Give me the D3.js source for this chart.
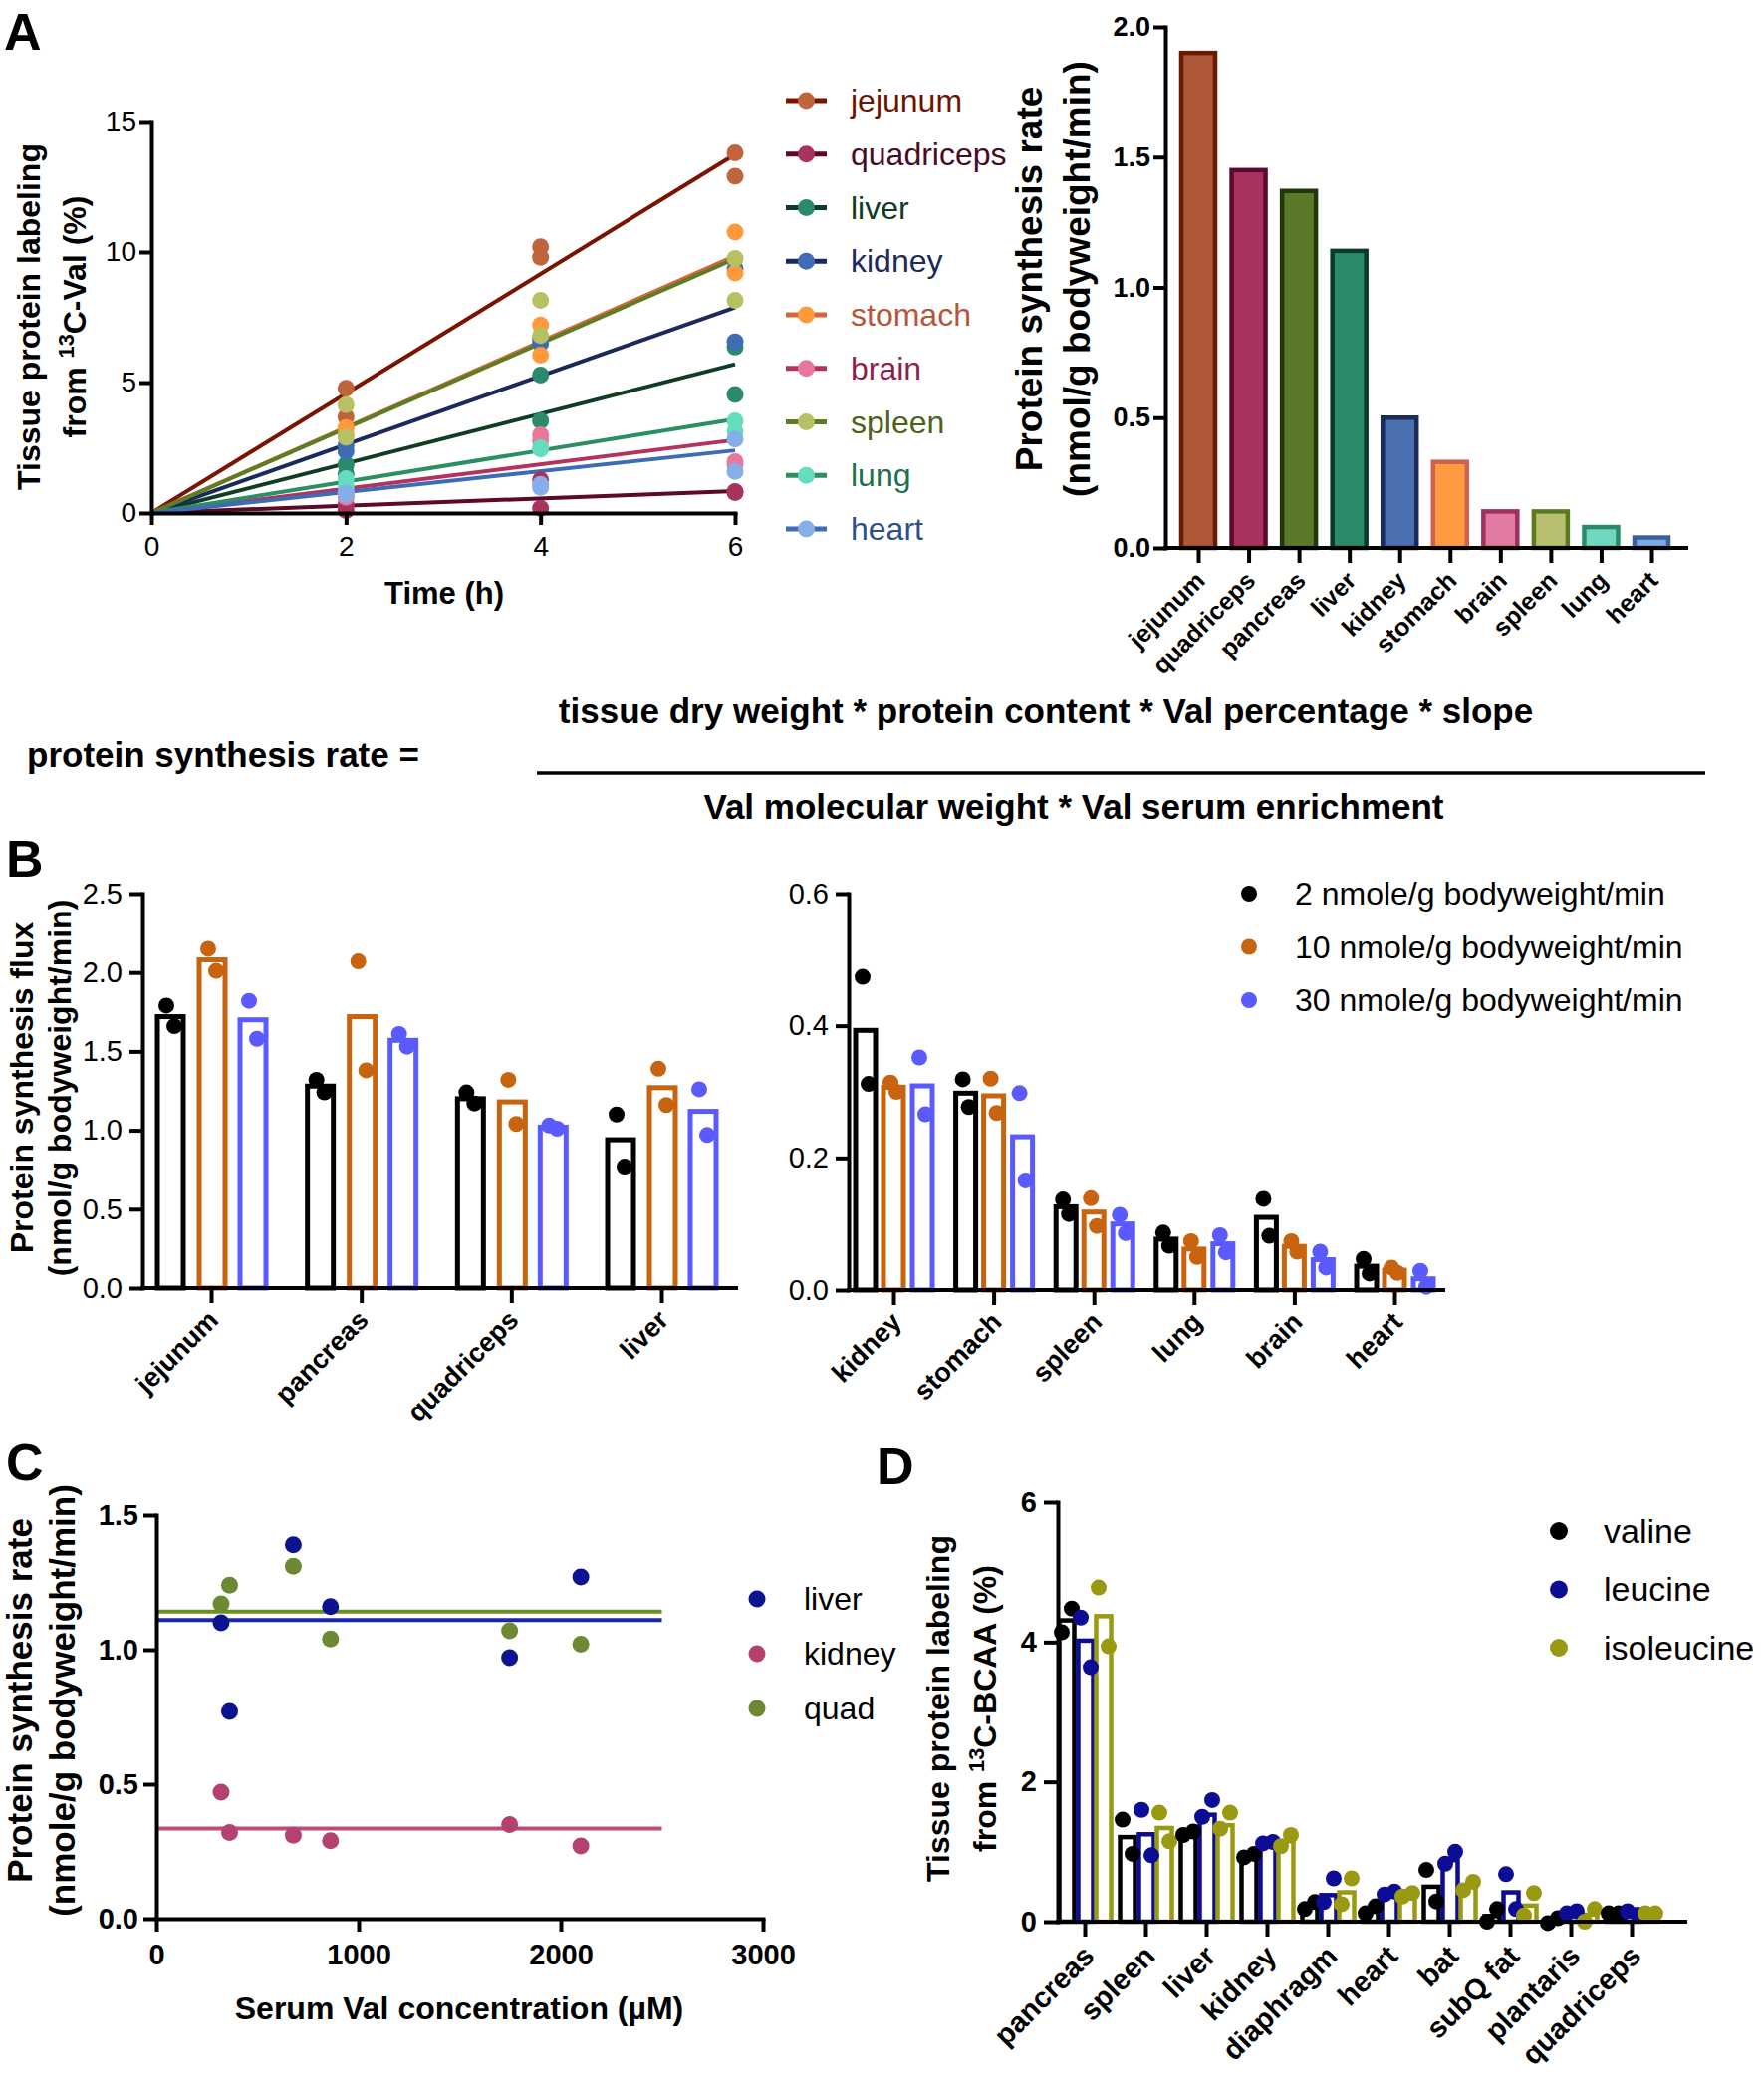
<!DOCTYPE html>
<html>
<head>
<meta charset="utf-8">
<script src="https://cdn.jsdelivr.net/npm/d3@7"></script>
<style>
  body { margin: 0; background: #fff; }
</style>
</head>
<body>
<svg id="fig" width="1771" height="2100"></svg>
<script>
// ---- data: panel A left (labeling %, two mice per time point) ----
const labelTissues = ["jejunum", "quadriceps", "liver", "kidney", "stomach", "brain", "spleen", "lung", "heart"];
const timeTicks = [0, 2, 4, 6];
const labeling2h = [[4.78, 3.68], [0.32, 0.10], [1.86, 1.50], [2.59, 2.37], [3.27, 3.02], [0.83, 0.60], [4.15, 2.90], [1.32, 1.05], [0.76, 0.70]];
const labeling4h = [[10.2, 9.8], [1.27, 0.18], [5.29, 3.54], [6.64, 6.50], [7.20, 6.05], [3.00, 2.75], [8.15, 6.80], [2.50, 2.45], [0.98, 1.10]];
const labeling6h = [[13.8, 12.9], [0.78, 0.82], [6.36, 4.54], [9.36, 6.56], [10.76, 9.20], [1.97, 1.85], [9.75, 8.15], [3.53, 3.14], [2.83, 1.59]];
const fitAt6h = [13.74, 0.84, 5.70, 7.88, 9.85, 2.80, 9.75, 3.60, 2.40];
const labelDot = ["#c0643c", "#a8335f", "#2b8a6b", "#3f6db5", "#ff9a3c", "#e8789a", "#b7c163", "#66dcbe", "#86aee8"];
const labelLine = ["#7a1400", "#5c0a26", "#0f3d24", "#1a2a5c", "#d5673f", "#b3335e", "#5d7d23", "#2c8f63", "#3d6bb5"];
const labelText = ["#6b1500", "#4a0a25", "#0f3d24", "#1a2a5c", "#b5553a", "#8c1f4e", "#4a6315", "#1f7050", "#2d4f8f"];

// ---- panel A right ----
const rateTissues = ["jejunum", "quadriceps", "pancreas", "liver", "kidney", "stomach", "brain", "spleen", "lung", "heart"];
const synthesisRate = [1.90, 1.45, 1.37, 1.14, 0.50, 0.33, 0.14, 0.14, 0.08, 0.04];
const rateFill = ["#b0573a", "#a8335f", "#5a7a2a", "#2b8a6b", "#4a70b0", "#ff9a40", "#e07aa0", "#b8c070", "#70d8c0", "#80a8e0"];
const rateStroke = ["#6a1a00", "#5a0a30", "#23380a", "#0a3a2a", "#1a2a5a", "#d06050", "#a03060", "#5a7a20", "#2a8a6a", "#3a60a0"];

// ---- panel B ----
const doseNames = ["2 nmole/g bodyweight/min", "10 nmole/g bodyweight/min", "30 nmole/g bodyweight/min"];
const doseColors = ["#000000", "#c8630f", "#5a5aff"];
const fluxHighTissues = ["jejunum", "pancreas", "quadriceps", "liver"];
const fluxHighBars = [[1.72, 2.08, 1.70], [1.28, 1.72, 1.57], [1.20, 1.18, 1.02], [0.94, 1.27, 1.12]];
const fluxHighPoints = [
  [[1.79, 1.66], [2.15, 2.01], [1.82, 1.58]],
  [[1.32, 1.24], [2.07, 1.38], [1.61, 1.53]],
  [[1.24, 1.17], [1.32, 1.04], [1.03, 1.01]],
  [[1.10, 0.77], [1.39, 1.16], [1.26, 0.97]]
];
const fluxLowTissues = ["kidney", "stomach", "spleen", "lung", "brain", "heart"];
const fluxLowBars = [[0.393, 0.307, 0.309], [0.298, 0.294, 0.232], [0.126, 0.118, 0.100], [0.077, 0.062, 0.070], [0.110, 0.066, 0.046], [0.036, 0.030, 0.017]];
const fluxLowPoints = [
  [[0.474, 0.312], [0.314, 0.300], [0.352, 0.266]],
  [[0.319, 0.277], [0.320, 0.268], [0.298, 0.166]],
  [[0.137, 0.115], [0.139, 0.097], [0.114, 0.086]],
  [[0.087, 0.067], [0.074, 0.050], [0.083, 0.057]],
  [[0.138, 0.082], [0.074, 0.058], [0.058, 0.034]],
  [[0.047, 0.025], [0.034, 0.026], [0.029, 0.005]]
];

// ---- panel C ----
const serumVal = [320, 362, 677, 861, 1747, 2099];
const liverRate = [1.10, 0.77, 1.39, 1.16, 0.97, 1.27];
const kidneyRate = [0.47, 0.32, 0.31, 0.29, 0.35, 0.27];
const quadRate = [1.17, 1.24, 1.31, 1.04, 1.07, 1.02];
const fitSpan = [0, 2500];
const cNames = ["liver", "kidney", "quad"];
const cDot = ["#0b1390", "#b5426e", "#6b8a32"];
const cLine = ["#1a28a8", "#c24a78", "#6b8f20"];

// ---- panel D ----
const bcaaTissues = ["pancreas", "spleen", "liver", "kidney", "diaphragm", "heart", "bat", "subQ fat", "plantaris", "quadriceps"];
const bcaaNames = ["valine", "leucine", "isoleucine"];
const bcaaColors = ["#000000", "#0c0c94", "#9a9a12"];
const bcaaBars = [[4.31, 4.02, 4.37], [1.21, 1.25, 1.34], [1.25, 1.53, 1.38], [0.92, 1.11, 1.15], [0.23, 0.38, 0.42],
  [0.17, 0.40, 0.36], [0.50, 0.88, 0.52], [0.08, 0.42, 0.23], [0.02, 0.13, 0.10], [0.11, 0.12, 0.11]];
const bcaaPoints = [
  [[4.14, 4.48], [4.35, 3.64], [4.78, 3.94]],
  [[1.46, 0.97], [1.60, 0.95], [1.56, 1.15]],
  [[1.24, 1.29], [1.50, 1.74], [1.33, 1.56]],
  [[0.92, 0.97], [1.12, 1.14], [1.08, 1.24]],
  [[0.18, 0.28], [0.28, 0.62], [0.25, 0.62]],
  [[0.12, 0.22], [0.39, 0.43], [0.36, 0.41]],
  [[0.74, 0.29], [0.83, 1.00], [0.45, 0.57]],
  [[0.00, 0.18], [0.68, 0.18], [0.09, 0.41]],
  [[-0.02, 0.05], [0.12, 0.15], [0.00, 0.18]],
  [[0.12, 0.12], [0.15, 0.10], [0.12, 0.12]]
];

const FONT = '"Liberation Sans", Arial, Helvetica, sans-serif';
const svg = d3.select("#fig").attr("font-family", FONT);

function yAxis(x, scale, ticks, fmt, size, weight, tick, pad) {
  const g = svg.append("g").attr("transform", "translate(" + x + ",0)")
    .call(d3.axisLeft(scale).tickValues(ticks).tickFormat(fmt).tickSize(tick).tickSizeOuter(0).tickPadding(pad));
  g.attr("font-family", FONT).attr("font-size", size).attr("font-weight", weight);
  g.select(".domain").attr("stroke-width", 4).attr("stroke-linecap", "square");
  g.selectAll(".tick line").attr("stroke-width", 4);
  g.selectAll(".tick text").attr("fill", "#000");
  return g;
}

// category axis: line from x0 to x1, ticks at point scale, rotated labels
function catAxis(xs, y0, x0, x1, size, lab) {
  svg.append("line").attr("x1", x0).attr("x2", x1).attr("y1", y0).attr("y2", y0)
    .attr("stroke", "#000").attr("stroke-width", 4).attr("stroke-linecap", "square");
  const g = svg.append("g").attr("transform", "translate(0," + y0 + ")")
    .call(d3.axisBottom(xs).tickSize(15).tickSizeOuter(0).tickFormat(""));
  g.select(".domain").remove();
  g.selectAll(".tick line").attr("stroke-width", 4);
  svg.append("g").selectAll("text").data(xs.domain()).enter().append("text")
    .attr("transform", d => "translate(" + (xs(d) + lab[0]) + "," + (y0 + lab[1]) + ") rotate(-45)")
    .attr("text-anchor", "end").attr("dy", "0.35em")
    .attr("font-size", size).attr("font-weight", "bold").text(d => d);
}

function yTitle(lines, xs, cy, size) {
  lines.forEach((ln, i) => {
    const t = svg.append("text").attr("transform", "translate(" + xs[i] + "," + cy + ") rotate(-90)")
      .attr("text-anchor", "middle").attr("font-size", size).attr("font-weight", "bold");
    if (typeof ln === "string") t.text(ln);
    else {
      t.append("tspan").text(ln[0]);
      t.append("tspan").attr("dy", -size * 0.38).attr("font-size", size * 0.68).text(ln[1]);
      t.append("tspan").attr("dy", size * 0.38).text(ln[2]);
    }
  });
}

function panelLabel(txt, x, y) {
  svg.append("text").attr("x", x).attr("y", y).attr("font-size", 52).attr("font-weight", "bold").text(txt);
}

// ================= Panel A left =================
panelLabel("A", 4, 50);
const xA = d3.scaleLinear().domain([0, 6]).range([152, 738]);
const yA = d3.scaleLinear().domain([0, 15]).range([515, 122]);

const fitLines = svg.append("g");
labelTissues.forEach((t, i) => {
  fitLines.append("line")
    .attr("x1", xA(0)).attr("y1", yA(0)).attr("x2", xA(6)).attr("y2", yA(fitAt6h[i]))
    .attr("stroke", labelLine[i]).attr("stroke-width", 4);
});
const aPts = [];
[[2, labeling2h], [4, labeling4h], [6, labeling6h]].forEach(([h, arr]) => {
  arr.forEach((vals, i) => vals.forEach(v => aPts.push({ h: h, v: v, i: i })));
});
svg.append("g").selectAll("circle").data(aPts).enter().append("circle")
  .attr("cx", d => xA(d.h)).attr("cy", d => yA(d.v)).attr("r", 8.5)
  .attr("fill", d => labelDot[d.i]);

yAxis(xA(0), yA, [0, 5, 10, 15], d3.format("d"), 28, "normal", 12, 3);
const gxA = svg.append("g").attr("transform", "translate(0," + yA(0) + ")")
  .call(d3.axisBottom(xA).tickValues(timeTicks).tickFormat(d3.format("d")).tickSize(12).tickSizeOuter(0).tickPadding(11));
gxA.attr("font-family", FONT).attr("font-size", 28);
gxA.select(".domain").attr("stroke-width", 4).attr("stroke-linecap", "square");
gxA.selectAll(".tick line").attr("stroke-width", 4);
svg.append("text").attr("x", 446).attr("y", 606).attr("text-anchor", "middle")
  .attr("font-size", 31).attr("font-weight", "bold").text("Time (h)");
yTitle(["Tissue protein labeling", ["from ", "13", "C-Val (%)"]], [40, 86], 318, 32);

// legend A
const legA = d3.scalePoint().domain(labelTissues).range([101, 531]);
const legAg = svg.append("g").selectAll("g").data(labelTissues).enter().append("g")
  .attr("transform", d => "translate(0," + legA(d) + ")");
legAg.append("line").attr("x1", 789).attr("x2", 830).attr("stroke", (d, i) => labelLine[i]).attr("stroke-width", 5);
legAg.append("circle").attr("cx", 809.5).attr("r", 8.5).attr("fill", (d, i) => labelDot[i]);
legAg.append("text").attr("x", 854).attr("dy", "0.35em").attr("font-size", 32)
  .attr("fill", (d, i) => labelText[i]).text(d => d);

// ================= Panel A right =================
const xR = d3.scalePoint().domain(rateTissues).range([1203, 1658]);
const yR = d3.scaleLinear().domain([0, 2]).range([550, 27]);
svg.append("g").selectAll("rect").data(rateTissues).enter().append("rect")
  .attr("x", d => xR(d) - 17).attr("width", 34)
  .attr("y", (d, i) => yR(synthesisRate[i])).attr("height", (d, i) => yR(0) - yR(synthesisRate[i]))
  .attr("fill", (d, i) => rateFill[i]).attr("stroke", (d, i) => rateStroke[i]).attr("stroke-width", 4.5);
yAxis(1170, yR, [0, 0.5, 1, 1.5, 2], d3.format(".1f"), 27, "bold", 12, 3);
catAxis(xR, yR(0), 1170, 1693, 25, [2, 28]);
yTitle(["Protein synthesis rate", "(nmol/g bodyweight/min)"], [1046, 1094], 280, 37);

// ================= Formula =================
svg.append("text").attr("x", 27).attr("y", 770).attr("font-size", 35).attr("font-weight", "bold")
  .text("protein synthesis rate =");
svg.append("text").attr("x", 1050).attr("y", 726).attr("text-anchor", "middle").attr("font-size", 35).attr("font-weight", "bold")
  .text("tissue dry weight * protein content * Val percentage * slope");
svg.append("line").attr("x1", 539).attr("x2", 1712).attr("y1", 776).attr("y2", 776)
  .attr("stroke", "#000").attr("stroke-width", 3.5);
svg.append("text").attr("x", 1078).attr("y", 822).attr("text-anchor", "middle").attr("font-size", 35).attr("font-weight", "bold")
  .text("Val molecular weight * Val serum enrichment");

// ================= grouped bars helper =================
function groupedBars(cats, bars, pts, colors, xs, ys, offs, barW, sw, r, jit) {
  const g = svg.append("g");
  cats.forEach((c, i) => {
    bars[i].forEach((v, k) => {
      g.append("rect").attr("x", xs(c) + offs[k] - barW / 2).attr("width", barW)
        .attr("y", ys(v)).attr("height", ys(0) - ys(v))
        .attr("fill", "#fff").attr("stroke", colors[k]).attr("stroke-width", sw);
    });
  });
  cats.forEach((c, i) => {
    pts[i].forEach((vals, k) => {
      vals.forEach((v, j) => {
        g.append("circle").attr("cx", xs(c) + offs[k] + (j === 0 ? -jit : jit)).attr("cy", ys(v))
          .attr("r", r).attr("fill", colors[k]);
      });
    });
  });
}

// ================= Panel B left =================
panelLabel("B", 6, 880);
const xB1 = d3.scalePoint().domain(fluxHighTissues).range([212, 664]);
const yB1 = d3.scaleLinear().domain([0, 2.5]).range([1293, 897]);
groupedBars(fluxHighTissues, fluxHighBars, fluxHighPoints, doseColors, xB1, yB1, [-41, 1, 42], 26, 5, 8, 4);
yAxis(143, yB1, [0, 0.5, 1, 1.5, 2, 2.5], d3.format(".1f"), 29, "normal", 13, 7);
catAxis(xB1, yB1(0), 143, 739, 27, [2, 27]);
yTitle(["Protein synthesis flux", "(nmol/g bodyweight/min)"], [33, 71], 1092, 32);

// ================= Panel B right =================
const xB2 = d3.scalePoint().domain(fluxLowTissues).range([897, 1400]);
const yB2 = d3.scaleLinear().domain([0, 0.6]).range([1295, 897]);
groupedBars(fluxLowTissues, fluxLowBars, fluxLowPoints, doseColors, xB2, yB2, [-28, 0, 29], 20, 5, 8, 3);
yAxis(852, yB2, [0, 0.2, 0.4, 0.6], d3.format(".1f"), 29, "normal", 13, 7);
catAxis(xB2, yB2(0), 852, 1449, 27, [3, 27]);

const legB = d3.scalePoint().domain(doseNames).range([897, 1004]);
const legBg = svg.append("g").selectAll("g").data(doseNames).enter().append("g")
  .attr("transform", d => "translate(0," + legB(d) + ")");
legBg.append("circle").attr("cx", 1254).attr("r", 8).attr("fill", (d, i) => doseColors[i]);
legBg.append("text").attr("x", 1300).attr("dy", "0.35em").attr("font-size", 32).text(d => d);

// ================= Panel C =================
panelLabel("C", 6, 1486);
const xC = d3.scaleLinear().domain([0, 3000]).range([157, 766]);
const yC = d3.scaleLinear().domain([0, 1.5]).range([1926, 1521]);
const cSeries = [liverRate, kidneyRate, quadRate];
const cLineOrder = [2, 0, 1];
cLineOrder.forEach(s => {
  const m = d3.mean(cSeries[s]);
  svg.append("line").attr("x1", xC(fitSpan[0])).attr("x2", xC(fitSpan[1]))
    .attr("y1", yC(m)).attr("y2", yC(m)).attr("stroke", cLine[s]).attr("stroke-width", 4);
});
cSeries.forEach((vals, s) => {
  svg.append("g").selectAll("circle").data(vals).enter().append("circle")
    .attr("cx", (d, i) => xC(serumVal[i])).attr("cy", d => yC(d)).attr("r", 8.5).attr("fill", cDot[s]);
});
yAxis(157, yC, [0, 0.5, 1, 1.5], d3.format(".1f"), 29, "bold", 13, 5);
const gxC = svg.append("g").attr("transform", "translate(0," + yC(0) + ")")
  .call(d3.axisBottom(xC).tickValues([0, 1000, 2000, 3000]).tickFormat(d3.format("d")).tickSize(13).tickSizeOuter(0).tickPadding(12));
gxC.attr("font-family", FONT).attr("font-size", 29).attr("font-weight", "bold");
gxC.select(".domain").attr("stroke-width", 4).attr("stroke-linecap", "square");
gxC.selectAll(".tick line").attr("stroke-width", 4);
svg.append("text").attr("x", 461).attr("y", 2027).attr("text-anchor", "middle")
  .attr("font-size", 32).attr("font-weight", "bold").text("Serum Val concentration (\u00b5M)");
yTitle(["Protein synthesis rate", "(nmole/g bodyweight/min)"], [32, 75], 1707, 35);

const legC = d3.scalePoint().domain(cNames).range([1605, 1715]);
const legCg = svg.append("g").selectAll("g").data(cNames).enter().append("g")
  .attr("transform", d => "translate(0," + legC(d) + ")");
legCg.append("circle").attr("cx", 760).attr("r", 8.5).attr("fill", (d, i) => cDot[i]);
legCg.append("text").attr("x", 807).attr("dy", "0.35em").attr("font-size", 32).text(d => d);

// ================= Panel D =================
panelLabel("D", 880, 1490);
const xD = d3.scalePoint().domain(bcaaTissues).range([1089, 1638]);
const yD = d3.scaleLinear().domain([0, 6]).range([1929, 1508]);
groupedBars(bcaaTissues, bcaaBars, bcaaPoints, bcaaColors, xD, yD, [-18, 1, 19], 15, 4.5, 8, 5);
yAxis(1062, yD, [0, 2, 4, 6], d3.format("d"), 29, "bold", 14, 7);
catAxis(xD, yD(0), 1062, 1692, 29, [4, 29]);
yTitle(["Tissue protein labeling", ["from ", "13", "C-BCAA (%)"]], [953, 1000], 1715, 32);

const legD = d3.scalePoint().domain(bcaaNames).range([1537, 1654]);
const legDg = svg.append("g").selectAll("g").data(bcaaNames).enter().append("g")
  .attr("transform", d => "translate(0," + legD(d) + ")");
legDg.append("circle").attr("cx", 1565).attr("r", 9).attr("fill", (d, i) => bcaaColors[i]);
legDg.append("text").attr("x", 1610).attr("dy", "0.35em").attr("font-size", 34).text(d => d);
</script>
</body>
</html>
